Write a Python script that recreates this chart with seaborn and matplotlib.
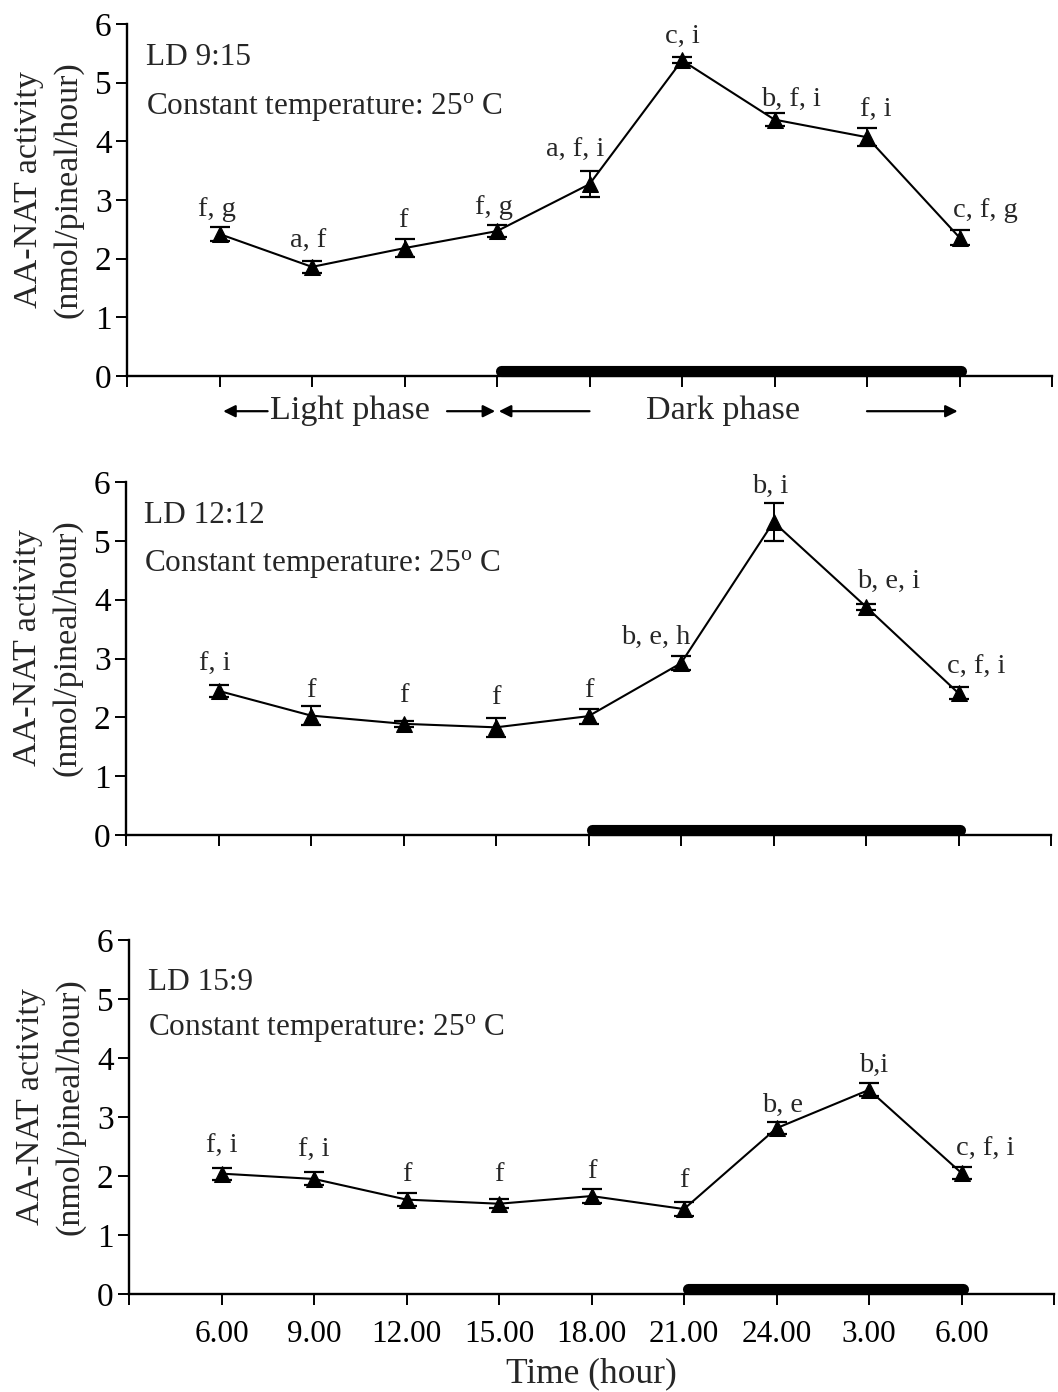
import numpy as np
import pandas as pd
import matplotlib
matplotlib.use("Agg")
import matplotlib.pyplot as plt
import seaborn as sns

# ---- data -------------------------------------------------------------
time_labels = ["6.00", "9.00", "12.00", "15.00", "18.00", "21.00", "24.00", "3.00", "6.00"]

ld915_mean = [2.42, 1.86, 2.18, 2.47, 3.27, 5.38, 4.37, 4.07, 2.36]
ld915_sem = [0.12, 0.10, 0.15, 0.10, 0.22, 0.05, 0.11, 0.15, 0.13]
ld915_letters = ["f, g", "a, f", "f", "f, g", "a, f, i", "c, i", "b, f, i", "f, i", "c, f, g"]

ld1212_mean = [2.45, 2.03, 1.89, 1.83, 2.02, 2.92, 5.32, 3.88, 2.41]
ld1212_sem = [0.10, 0.16, 0.05, 0.16, 0.13, 0.12, 0.33, 0.05, 0.10]
ld1212_letters = ["f, i", "f", "f", "f", "f", "b, e, h", "b, i", "b, e, i", "c, f, i"]

ld159_mean = [2.04, 1.95, 1.60, 1.53, 1.66, 1.44, 2.81, 3.46, 2.05]
ld159_sem = [0.10, 0.11, 0.11, 0.08, 0.12, 0.12, 0.10, 0.11, 0.10]
ld159_letters = ["f, i", "f, i", "f", "f", "f", "f", "b, e", "b,i", "c, f, i"]

photoperiods = ["LD 9:15", "LD 12:12", "LD 15:9"]
dark_onset = ["15.00", "18.00", "21.00"]
dark_end = "6.00"
temperature_note = "Constant temperature: 25$^{\\mathrm{o}}$ C"

# ---- style ------------------------------------------------------------
sns.set_theme(style="ticks")
plt.rcParams["font.family"] = ["Liberation Serif", "DejaVu Serif"]
plt.rcParams["mathtext.fontset"] = "custom"
plt.rcParams["mathtext.rm"] = "Liberation Serif"
plt.rcParams["mathtext.it"] = "Liberation Serif:italic"
plt.rcParams["axes.edgecolor"] = "black"
plt.rcParams["xtick.color"] = "black"
plt.rcParams["ytick.color"] = "black"

PX = 72 / 100  # pixels -> points at 100 dpi

# label offsets (dx, dy) in pixels from each point
offsets = [
    [(-3, 25), (-4, 25), (-2, 28), (-3, 24), (-14, 34), (0, 24), (16, 20), (9, 27), (26, 27)],
    [(-4, 26), (0, 25), (0, 28), (0, 30), (0, 26), (-25, 26), (-3, 36), (23, 25), (18, 26)],
    [(0, 27), (0, 29), (0, 25), (0, 29), (0, 25), (0, 29), (6, 23), (5, 24), (24, 24)],
]

# vertical placement (axes fraction) of the photoperiod and temperature notes
note_y = [(0.905, 0.765), (0.905, 0.768), (0.88, 0.75)]

# axes rectangles in figure fraction (left, bottom, width, height)
W, H = 1058, 1392
rects = [
    (127 / W, 1 - 376 / H, 925 / W, 352 / H),
    (126 / W, 1 - 835 / H, 925 / W, 353 / H),
    (129 / W, 1 - 1294 / H, 925 / W, 354 / H),
]

fig = plt.figure(figsize=(W / 100, H / 100), dpi=100)

series = [
    (ld915_mean, ld915_sem, ld915_letters),
    (ld1212_mean, ld1212_sem, ld1212_letters),
    (ld159_mean, ld159_sem, ld159_letters),
]

xpos = np.arange(1, len(time_labels) + 1)

for k, ((mean, sem, letters), rect) in enumerate(zip(series, rects)):
    ax = fig.add_axes(rect)
    df = pd.DataFrame({"x": xpos, "activity": mean})
    sns.lineplot(data=df, x="x", y="activity", ax=ax, color="black",
                 linewidth=1.5, marker="^", markersize=11,
                 markeredgecolor="black", markerfacecolor="black", zorder=3)
    ax.errorbar(xpos, mean, yerr=sem, fmt="none", ecolor="black",
                elinewidth=1.4, capsize=7.5, capthick=1.6, zorder=2)

    for i, (x, y, lab) in enumerate(zip(xpos, mean, letters)):
        dx, dy = offsets[k][i]
        ax.annotate(lab, xy=(x, y), xytext=(dx * PX, dy * PX),
                    textcoords="offset points", ha="center", va="center",
                    fontsize=20.5)

    # dark-phase bar on the time axis
    start = time_labels.index(dark_onset[k]) + 1
    end = len(time_labels) - time_labels[::-1].index(dark_end)
    ax.plot([start + 0.04, end + 0.02], [0.08, 0.08], color="black",
            linewidth=8, solid_capstyle="round", zorder=4, clip_on=False)

    ax.set_xlim(0, 10)
    ax.set_ylim(0, 6)
    ax.set_yticks(range(0, 7))
    ax.set_xticks(range(0, 11))
    if k == 2:
        ax.set_xticklabels([""] + time_labels + [""])
        ax.set_xlabel("Time (hour)", fontsize=25.5, labelpad=6)
    else:
        ax.set_xticklabels([])
        ax.set_xlabel("")
    ax.tick_params(axis="both", direction="out", length=8, width=1.4, pad=3)
    ax.tick_params(axis="y", labelsize=24)
    ax.tick_params(axis="x", labelsize=22.5, pad=11)
    for side in ("top", "right"):
        ax.spines[side].set_visible(False)
    for side in ("left", "bottom"):
        ax.spines[side].set_linewidth(1.7)

    ax.set_ylabel("AA-NAT activity\n(nmol/pineal/hour)", fontsize=24.5,
                  linespacing=1.35)
    ax.yaxis.set_label_coords(-0.047, 0.53)

    ax.text(0.02, note_y[k][0], photoperiods[k], transform=ax.transAxes,
            fontsize=22.5, ha="left", va="center")
    ax.text(0.02, note_y[k][1], temperature_note, transform=ax.transAxes,
            fontsize=22.5, ha="left", va="center")

    if k == 0:
        ty = -0.10
        arrow = dict(arrowstyle="-|>", color="black", lw=1.6,
                     mutation_scale=18, shrinkA=0, shrinkB=0)
        ax.annotate("", xy=(1.04, ty), xytext=(1.52, ty),
                    xycoords=("data", "axes fraction"),
                    textcoords=("data", "axes fraction"), arrowprops=arrow)
        ax.text(1.55, ty, "Light phase", transform=ax.get_xaxis_transform(),
                fontsize=24.5, ha="left", va="center")
        ax.annotate("", xy=(3.98, ty), xytext=(3.46, ty),
                    xycoords=("data", "axes fraction"),
                    textcoords=("data", "axes fraction"), arrowprops=arrow)
        ax.annotate("", xy=(4.02, ty), xytext=(5.0, ty),
                    xycoords=("data", "axes fraction"),
                    textcoords=("data", "axes fraction"), arrowprops=arrow)
        ax.text(6.44, ty, "Dark phase", transform=ax.get_xaxis_transform(),
                fontsize=24.5, ha="center", va="center")
        ax.annotate("", xy=(8.98, ty), xytext=(8.0, ty),
                    xycoords=("data", "axes fraction"),
                    textcoords=("data", "axes fraction"), arrowprops=arrow)

fig.savefig("out.png", dpi=100, facecolor="white")
